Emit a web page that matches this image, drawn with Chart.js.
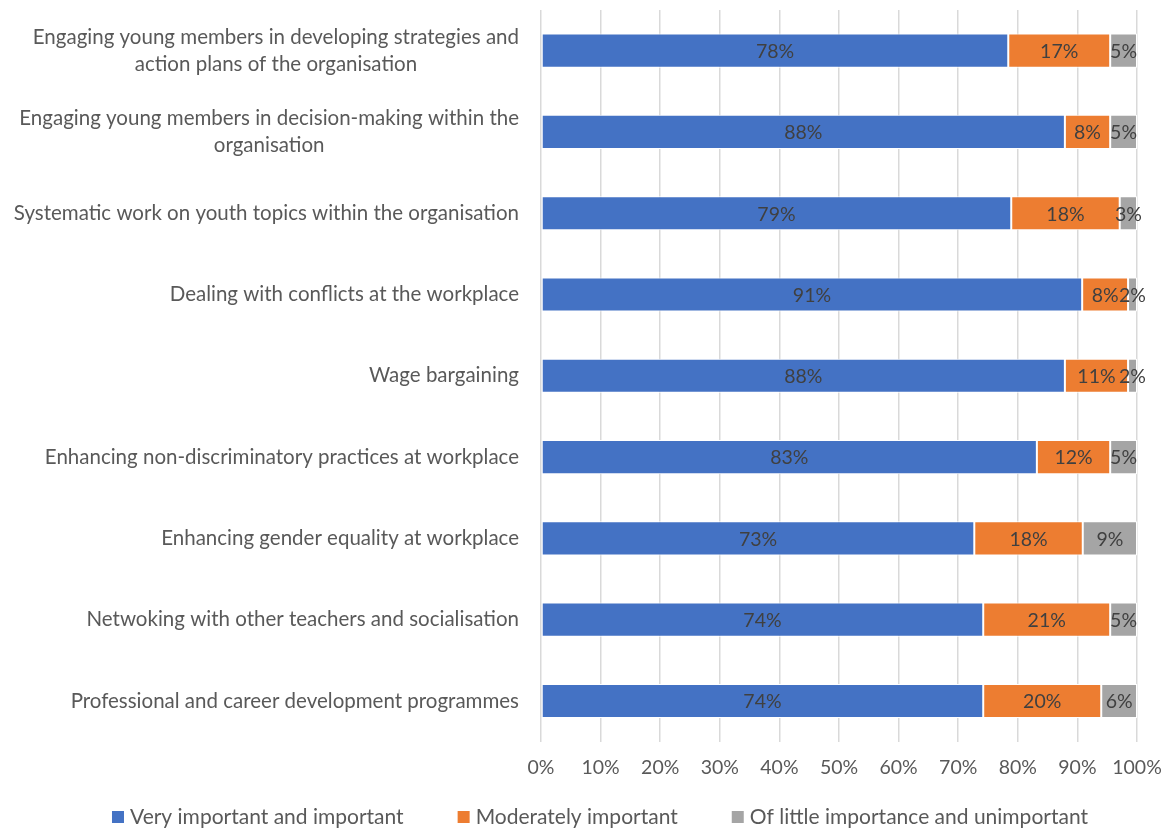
<!DOCTYPE html>
<html>
<head>
<meta charset="utf-8">
<script src="https://cdn.jsdelivr.net/npm/chart.js@4/dist/chart.umd.min.js"></script>
<style>
  html, body { margin: 0; padding: 0; background: #fff; }
  #wrap { width: 1169px; height: 830px; }
</style>
</head>
<body>
<div id="wrap"><canvas id="chart"></canvas></div>
<script>
const categories = [
    ["Engaging young members in developing strategies and", "action plans of the organisation"],
    ["Engaging young members in decision-making within the", "organisation"],
    ["Systematic work on youth topics within the organisation"],
    ["Dealing with conflicts at the workplace"],
    ["Wage bargaining"],
    ["Enhancing non-discriminatory practices at workplace"],
    ["Enhancing gender equality at workplace"],
    ["Netwoking with other teachers and socialisation"],
    ["Professional and career development programmes"]
];
const seriesNames = ["Very important and important", "Moderately important", "Of little importance and unimportant"];
const veryImportant = [78.4, 87.9, 78.9, 90.8, 87.9, 83.2, 72.7, 74.2, 74.2];
const moderately = [17.1, 7.6, 18.2, 7.7, 10.6, 12.3, 18.2, 21.3, 19.8];
const littleImportance = [4.5, 4.5, 2.9, 1.5, 1.5, 4.5, 9.1, 4.5, 6.0];
const xTicks = [0, 10, 20, 30, 40, 50, 60, 70, 80, 90, 100];

const colors = ["#4472C4", "#ED7D31", "#A5A5A5"];
const FONT = "Lato";
const textGrey = "#595959";

// draws centred multi-line category labels, the value labels and the legend
const drawExtras = {
    id: 'drawExtras',
    afterDraw(chart) {
        const ctx = chart.ctx;
        const yScale = chart.scales.y;
        ctx.save();

        // category labels
        ctx.font = "20.5px " + FONT;
        ctx.fillStyle = textGrey;
        ctx.textAlign = 'center';
        ctx.textBaseline = 'middle';
        const rightEdge = chart.chartArea.left - 22;
        categories.forEach((lines, i) => {
            const y = yScale.getPixelForTick(i);
            const w = Math.max(...lines.map(l => ctx.measureText(l).width));
            const cx = rightEdge - w / 2;
            const lh = 27;
            lines.forEach((l, k) => {
                ctx.fillText(l, cx, y + (k - (lines.length - 1) / 2) * lh);
            });
        });

        // value labels
        ctx.font = "19.5px " + FONT;
        ctx.fillStyle = "#404040";
        chart.data.datasets.forEach((ds, di) => {
            chart.getDatasetMeta(di).data.forEach((bar, i) => {
                const p = bar.getProps(['x', 'y', 'base'], true);
                ctx.fillText(Math.round(ds.data[i]) + '%', (p.x + p.base) / 2, p.y + 1);
            });
        });

        // legend
        ctx.font = "21px " + FONT;
        ctx.textAlign = 'left';
        const box = 12, gap = 6, spacing = 54;
        const widths = seriesNames.map(n => box + gap + ctx.measureText(n).width);
        const total = widths.reduce((a, b) => a + b, 0) + spacing * (seriesNames.length - 1);
        let x = 600 - total / 2;
        const ly = 817;
        seriesNames.forEach((n, i) => {
            ctx.fillStyle = colors[i];
            ctx.fillRect(x, ly - box / 2, box, box);
            ctx.fillStyle = textGrey;
            ctx.fillText(n, x + box + gap, ly);
            x += widths[i] + spacing;
        });
        ctx.restore();
    }
};

const makeSet = (label, data, i) => ({
    label: label,
    data: data,
    backgroundColor: colors[i],
    borderColor: '#ffffff',
    borderWidth: 1,
    borderSkipped: false,
    barPercentage: 0.42,
    categoryPercentage: 1
});

new Chart(document.getElementById('chart'), {
    type: 'bar',
    data: {
        labels: categories.map(c => c.join(' ')),
        datasets: [
            makeSet(seriesNames[0], veryImportant, 0),
            makeSet(seriesNames[1], moderately, 1),
            makeSet(seriesNames[2], littleImportance, 2)
        ]
    },
    options: {
        indexAxis: 'y',
        responsive: true,
        maintainAspectRatio: false,
        animation: false,
        layout: { padding: { top: 10, right: 32, bottom: 37, left: 0 } },
        plugins: {
            legend: { display: false },
            tooltip: { enabled: false }
        },
        scales: {
            x: {
                stacked: true,
                min: 0,
                max: 100,
                afterBuildTicks: s => { s.ticks = xTicks.map(v => ({ value: v })); },
                afterFit: s => { s.paddingLeft = 0; s.paddingRight = 0; },
                ticks: {
                    callback: v => v + '%',
                    color: textGrey,
                    font: { family: FONT, size: 19.5 },
                    padding: 14,
                    maxRotation: 0
                },
                grid: { color: '#d9d9d9', lineWidth: 1.5, drawTicks: false },
                border: { display: false }
            },
            y: {
                stacked: true,
                ticks: { display: false },
                grid: { display: false },
                border: { display: false },
                afterFit: s => { s.width = 541; }
            }
        }
    },
    plugins: [drawExtras]
});
</script>
</body>
</html>
